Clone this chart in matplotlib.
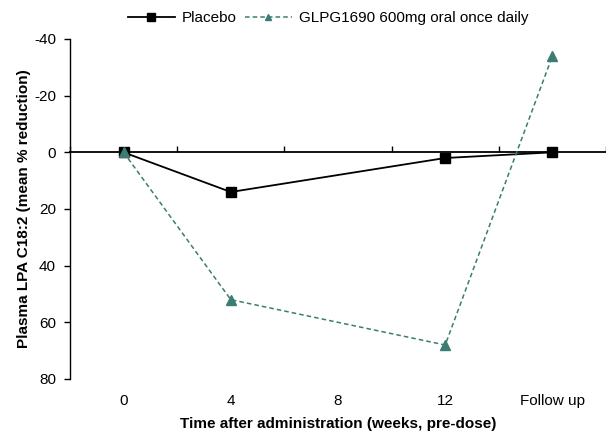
import matplotlib
matplotlib.use("Agg")
import matplotlib.pyplot as plt
import numpy as np

plt.rcParams['font.family'] = ['Liberation Sans', 'DejaVu Sans']
plt.rcParams['axes.unicode_minus'] = False

# visit labels along the category axis
visits = ['0', '4', '8', '12', 'Follow up']

# mean % reduction at each visit (positive = reduction, axis is flipped)
placebo_pos = [0, 1, 3, 4]
placebo = [0, 14, 2, 0]
glpg_pos = [0, 1, 3, 4]
glpg = [0, 52, 68, -34]

teal = '#3b7d72'

fig = plt.figure(figsize=(6.06, 4.32), dpi=100)
ax = fig.add_axes([70 / 606, 1 - 379 / 432, 536 / 606, 340 / 432])

l1, = ax.plot(placebo_pos, placebo, color='black', lw=1.3, marker='s',
              markersize=7.5, markerfacecolor='black', markeredgecolor='black',
              label='Placebo', zorder=4)
l2, = ax.plot(glpg_pos, glpg, color=teal, lw=1.1, ls=(0, (3, 2)), marker='^',
              markersize=6.5, markerfacecolor=teal, markeredgecolor=teal,
              label='GLPG1690 600mg oral once daily', zorder=5)

ax.set_ylim(80, -40)
ax.set_yticks(np.arange(-40, 81, 20))
ax.set_xlim(-0.5, 4.5)

for s in ['top', 'right', 'bottom']:
    ax.spines[s].set_visible(False)
ax.spines['left'].set_linewidth(1.0)

ax.tick_params(axis='y', direction='out', length=4, width=1.0, pad=6,
               labelsize=11, colors='black')
ax.set_xticks(range(len(visits)))
ax.set_xticklabels(visits)
ax.tick_params(axis='x', length=0, pad=11, labelsize=11)

# zero line with category separator ticks
zero_axis = ax.secondary_xaxis(0, transform=ax.transData)
zero_axis.set_xticks(np.arange(-0.5, 4.6, 1.0))
zero_axis.tick_params(axis='x', direction='in', length=4, width=1.0,
                      labelbottom=False)
zero_axis.spines['bottom'].set_linewidth(1.3)

ax.set_ylabel('Plasma LPA C18:2 (mean % reduction)', fontsize=11,
              fontweight='bold', labelpad=2)
ax.set_xlabel('Time after administration (weeks, pre-dose)', fontsize=11,
              fontweight='bold', labelpad=6)

fig.legend(handles=[l1, l2], loc='center', bbox_to_anchor=(328 / 606, 1 - 18 / 432),
           ncol=2, frameon=False, fontsize=11, handlelength=3.1,
           handletextpad=0.45, columnspacing=0.5, markerscale=0.75)

fig.savefig('out.png', dpi=100)
